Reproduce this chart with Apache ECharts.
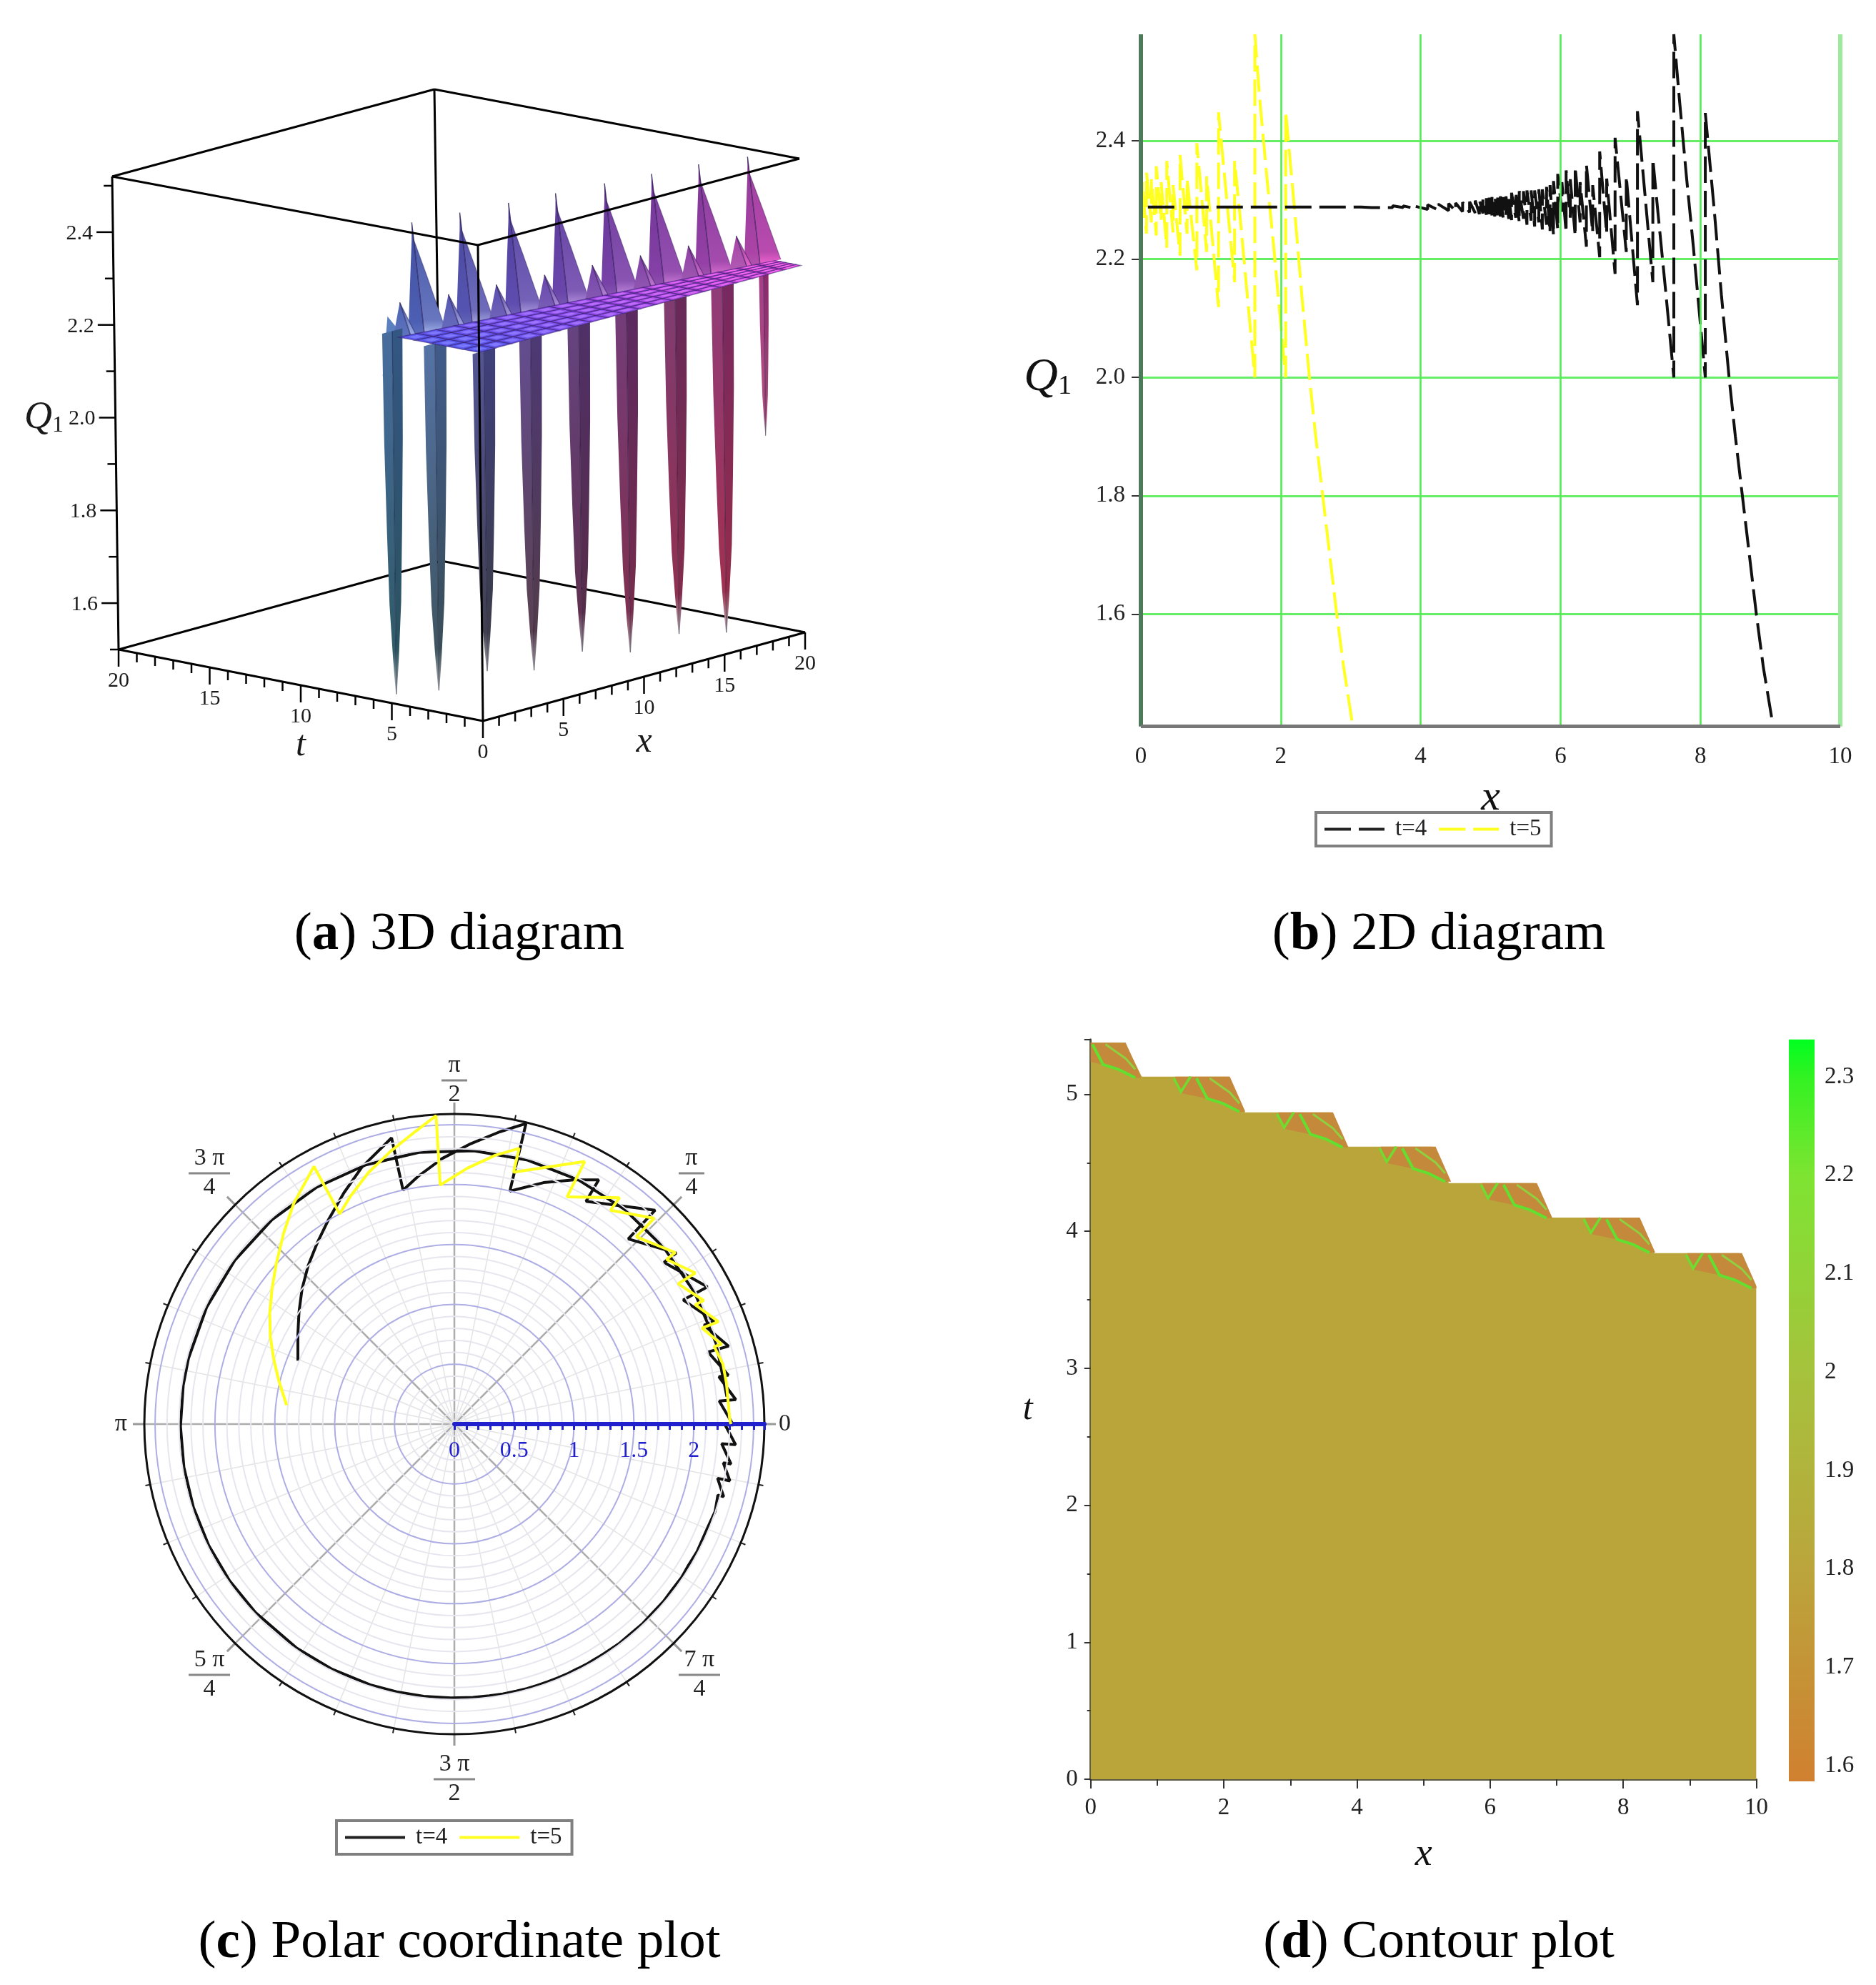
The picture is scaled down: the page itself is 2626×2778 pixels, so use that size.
<!DOCTYPE html>
<html><head><meta charset="utf-8">
<style>html,body{margin:0;padding:0;background:#fff}#c{width:2626px;height:2778px}</style>
<script src="https://cdn.jsdelivr.net/npm/echarts@6/dist/echarts.min.js"></script>
</head><body><div id="c"></div>
<script>
// ---------- values ----------
const t4StartX = 0.1, t4StartY = 2.288, t4EndX = 9.04, t4EndY = 1.41;
const t4JumpX  = [0.3,0.5,0.7,0.9,1.1,1.3,1.5,1.7,1.9,2.1,2.3,2.5,2.7,2.9,3.00,3.15,3.30,3.45,3.60,3.75,3.90,4.10,4.25,4.40,4.50,4.60,4.70,4.78,4.84,4.89,4.94,4.98,5.02,5.06,5.10,5.14,5.18,5.22,5.26,5.30,5.36,5.41,5.47,5.52,5.58,5.63,5.69,5.74,5.80,5.85,5.90,5.96,6.02,6.08,6.14,6.21,6.28,6.37,6.46,6.56,6.66,6.78,6.94,7.10,7.32,7.40,7.50,7.62,7.70,7.80,7.90,8.00,8.07,8.20,8.30,8.41,8.50,8.60,8.70,8.80,8.90];
const t4JumpLow  = [2.288,2.288,2.288,2.288,2.288,2.288,2.288,2.288,2.288,2.288,2.288,2.288,2.288,2.288,2.288,2.288,2.287,2.287,2.287,2.287,2.286,2.284,2.283,2.282,2.281,2.280,2.279,2.278,2.276,2.277,2.275,2.276,2.274,2.272,2.274,2.272,2.270,2.272,2.268,2.266,2.270,2.262,2.268,2.258,2.265,2.255,2.262,2.250,2.258,2.245,2.240,2.250,2.280,2.245,2.270,2.239,2.262,2.221,2.245,2.203,2.243,2.175,2.212,2.122,2.161,2.270,2.150,2.000,2.470,2.340,2.220,2.090,2.000,2.280,2.140,2.000,1.900,1.800,1.700,1.600,1.510];
const t4JumpHigh = [2.288,2.288,2.288,2.288,2.288,2.288,2.288,2.288,2.288,2.288,2.288,2.288,2.288,2.288,2.288,2.288,2.289,2.289,2.290,2.290,2.290,2.292,2.293,2.294,2.295,2.296,2.297,2.299,2.300,2.302,2.303,2.304,2.305,2.306,2.304,2.306,2.305,2.306,2.308,2.312,2.314,2.315,2.315,2.316,2.316,2.316,2.318,2.318,2.322,2.325,2.332,2.344,2.330,2.350,2.335,2.356,2.330,2.360,2.325,2.382,2.336,2.405,2.340,2.450,2.369,2.270,2.150,2.580,2.470,2.340,2.220,2.090,2.447,2.280,2.140,2.000,1.900,1.800,1.700,1.600,1.510];
const t5StartX = 0.0, t5StartY = 2.31, t5EndX = 3.03, t5EndY = 1.41;
const t5JumpX    = [0.02,0.08,0.15,0.22,0.29,0.37,0.46,0.56,0.66,0.80,0.94,1.11,1.34,1.42,1.52,1.63,1.70,1.80,1.90,2.00,2.07,2.20,2.30,2.41,2.50,2.60,2.70,2.80,2.90];
const t5JumpLow  = [2.270,2.243,2.262,2.240,2.265,2.219,2.245,2.206,2.243,2.181,2.212,2.119,2.161,2.270,2.140,2.000,2.470,2.340,2.220,2.090,2.000,2.280,2.140,2.000,1.900,1.800,1.700,1.600,1.510];
const t5JumpHigh = [2.330,2.346,2.335,2.357,2.330,2.366,2.325,2.376,2.336,2.396,2.340,2.448,2.366,2.270,2.140,2.580,2.470,2.340,2.220,2.090,2.450,2.280,2.140,2.000,1.900,1.800,1.700,1.600,1.510];
const yTicks2d = [1.6,1.8,2.0,2.2,2.4];
const xGrid2d = [2,4,6,8];
const frameBottom2d = 1.41, frameTop2d = 2.58;

const peakX = [0.76,3.31,5.9,8.4,11,13.5,16,18.6];
const peakZ = [2.53,2.53,2.53,2.53,2.53,2.53,2.53,2.525];
const smallPeakX = [0.08,2.66,5.2,7.76,10.3,12.85,15.4,17.95];
const smallPeakZ = [2.364,2.36,2.36,2.36,2.36,2.36,2.36,2.36];
const bladeX = [0.67,0.13,0.3,3.2,6.2,9.17,12.2,15.13,17.7];
const bladeT = [5.34,2.52,0,0,0,0,0,0,0];
const bladeTipZ = [1.51,1.545,1.604,1.578,1.59,1.56,1.571,1.546,1.945];
const bladeTopColor = ['#3c6498','#4a6aa0','#4a4a90','#5a4288','#5c3878','#6a3070','#783068','#8a3070','#a03080'];
const bladeBottomColor = ['#2f5a68','#3e5560','#40404f','#5a4050','#60304f','#803050','#903050','#a03050','#b05080'];
const plateZ = 2.29;
const tTicks3d = [0,5,10,15,20], xTicks3d = [5,10,15,20], zTicks3d = [1.6,1.8,2.0,2.2,2.4];

const stairX = [0,0.52,0.767,2.07,2.317,3.61,3.858,5.136,5.38,6.66,6.925,8.21,8.46,9.75,10,10,0];
const stairT = [5.377,5.377,5.129,5.129,4.868,4.868,4.618,4.618,4.352,4.352,4.10,4.10,3.84,3.84,3.596,0,0];
const stepAnchorX = [-0.797,0.767,2.317,3.858,5.38,6.925,8.46];
const stepAnchorT = [5.377,5.129,4.868,4.618,4.352,4.10,3.84];
const wedgeDx = [0.5,1.323,1.556,1.467,1.216,0.984,0.59];
const wedgeDt = [0,0,-0.256,-0.256,-0.195,-0.16,-0.12];
const contourADx = [0.483,0.59,0.733], contourADt = [-0.012,-0.111,0];
const contourBDx = [0.823,0.984,1.216,1.467], contourBDt = [-0.012,-0.16,-0.195,-0.256];
const contourCDx = [1.02,1.323,1.467], contourCDt = [-0.012,-0.116,-0.195];
const colorbarValues = [1.584,1.8,2.0,2.2,2.3,2.338];
const colorbarColors = ['#d08030','#bba53c','#a6c23c','#7ee432','#32f222','#00ff20'];

const anglePiLabels = {0:'{z|0}',45:'{n|π}\n{r1|}\n{d|4}',90:'{n|π}\n{r1|}\n{d|2}',135:'{n|3 π}\n{r3|}\n{d|4}',180:'{pi|π}',225:'{n|5 π}\n{r3|}\n{d|4}',270:'{sp|}\n{n|3 π}\n{r3|}\n{d|2}',315:'{n|7 π}\n{r3|}\n{d|4}'};
const captions = [['a','3D diagram'],['b','2D diagram'],['c','Polar coordinate plot'],['d','Contour plot']];

// ---------- helpers ----------
const SERIF = '"Liberation Serif"';
function sawtooth(sx,sy,xs,lo,hi,ex,ey){const p=[[sx,sy]];xs.forEach((x,i)=>{p.push([x,lo[i]],[x,hi[i]]);});p.push([ex,ey]);return p;}
const t4Pts = sawtooth(t4StartX,t4StartY,t4JumpX,t4JumpLow,t4JumpHigh,t4EndX,t4EndY);
const t5Pts = sawtooth(t5StartX,t5StartY,t5JumpX,t5JumpLow,t5JumpHigh,t5EndX,t5EndY);
const deg = x => x*180/Math.PI;
// the polar panel keeps only the mid-height of the fine ripple below the cut
function polarPts(sx,sy,xs,lo,hi,ex,ey,cut){
  const p=[[sy,deg(sx)]];
  xs.forEach((x,i)=>{ if(x<cut){p.push([(lo[i]+hi[i])/2,deg(x)]);} else {p.push([lo[i],deg(x)],[hi[i],deg(x)]);} });
  p.push([ey,deg(ex)]);return p;
}
const t4Polar = polarPts(t4StartX,t4StartY,t4JumpX,t4JumpLow,t4JumpHigh,t4EndX,t4EndY,6.0);
const t5Polar = polarPts(t5StartX,t5StartY,t5JumpX,t5JumpLow,t5JumpHigh,t5EndX,t5EndY,0.28);

// 3D box: screen corners of the Maple frame
const B00=[676,1009],B10=[1127,885],B01=[166,909],B11=[618,785];
const T00=[669,343],T10=[1119,222],T01=[157,247],T11=[608,125];
const Z0=1.5,Z1=2.52;
function proj(p){
  const fx=p[0]/20,ft=p[1]/20,fz=(p[2]-Z0)/(Z1-Z0);
  const bl=(a,b,c,d,k)=>a[k]*(1-fx)*(1-ft)+b[k]*fx*(1-ft)+c[k]*(1-fx)*ft+d[k]*fx*ft;
  const r=[0,1].map(k=>{const bb=bl(B00,B10,B01,B11,k),tt=bl(T00,T10,T01,T11,k);return bb+(tt-bb)*fz;});
  return [r[0]+(p[3]||0),r[1]+(p[4]||0)];
}
const edge=x=>4.4-0.15*x;
function hex(c){return [1,3,5].map(i=>parseInt(c.substr(i,2),16));}
function mix(a,b,f){const A=hex(a),B=hex(b);return '#'+A.map((v,i)=>Math.round(v+(B[i]-v)*f).toString(16).padStart(2,'0')).join('');}
function ramp(stops,f){const n=stops.length-1;f=Math.max(0,Math.min(1,f));const i=Math.min(n-1,Math.floor(f*n));return mix(stops[i],stops[i+1],f*n-i);}
const peakRamp=['#4a62b4','#5a4eb0','#7242a8','#8c3fa5','#b846a8'];
const lightRamp=['#a0b4ec','#a89cdc','#b888dc','#d070d0','#ff60d0'];
const plateRamp=['#5458e8','#7a52ee','#a04cea','#c84ce4','#e84cdc'];
const cellRamp=['#7478ff','#9874ff','#ba6cfa','#e068f4','#ff6cf0'];

const faces3d=[];
const line3=(pts,lw,col)=>faces3d.push({k:'line',pts,lw:lw||3,col:col||'#000'});
const poly3=(pts,fill,stroke,grad)=>faces3d.push({k:'poly',pts,fill,stroke,grad});
const text3=(pts,text,font,align,rich)=>faces3d.push({k:'text',pts,text,font,align:align||'center',rich});
// spike side: a thin needle near the tip, then widening straight to the base
function spikeSide(tip,base){
  const at=(f,w)=>[tip[0]+(base[0]-tip[0])*w,tip[1]+(base[1]-tip[1])*w,tip[2]+(base[2]-tip[2])*f];
  return [at(0.16,0.06),at(0.5,0.45),base];
}
// back frame
line3([[0,20,Z0],[20,20,Z0]]);line3([[20,20,Z0],[20,0,Z0]]);
line3([[20,20,Z0],[20,20,Z1]]);line3([[0,20,Z1],[20,20,Z1]]);line3([[20,20,Z1],[20,0,Z1]]);
// tall peaks
peakX.forEach((x,i)=>{
  const f=x/20,c=ramp(peakRamp,f),l=ramp(lightRamp,f),d=mix(c,'#201050',0.12);
  const tip=[x,edge(x),peakZ[i]];
  const L=[x-0.25,edge(x-0.25),plateZ],M=[x+0.42,edge(x)-0.25,plateZ],R=[x+1.7,edge(x+1.7),plateZ];
  poly3([tip].concat(spikeSide(tip,L)).concat([M]),null,null,[mix(c,'#201050',0.2),c,mix(c,'#ffffff',0.1)]);
  poly3([tip].concat(spikeSide(tip,R)).concat([M]),null,null,[d,mix(d,l,0.35),l]);
  line3([tip,M],1.5,'rgba(30,15,70,0.6)');
  line3([tip].concat(spikeSide(tip,R)),1.2,'rgba(30,15,70,0.35)');
});
// small peaks
poly3([[0,5.0,2.33],[0.45,4.6,plateZ],[0.67,5.2,2.2],[0,5.3,2.2]],'#5a80c0');
smallPeakX.forEach((x,i)=>{
  const f=x/20,c=ramp(peakRamp,f),l=ramp(lightRamp,f);
  const tip=[x,edge(x),smallPeakZ[i]];
  const L=[x-0.38,edge(x-0.38),plateZ],M=[x+0.23,edge(x)-0.4,plateZ],R=[x+0.65,edge(x+0.65)-0.2,plateZ];
  poly3([tip,L,M],null,null,[c,mix(c,'#ffffff',0.12)]);
  poly3([tip,M,R],null,null,[mix(c,'#000000',0.1),l]);
  line3([tip,M],1.5,'rgba(30,15,70,0.55)');
  line3([tip,R],1.2,'rgba(30,15,70,0.45)');
});
// down-pointing blades
const bladeDepth=[0,0.3,0.55,0.75,0.9,1], bladeHalf=[0.7,0.64,0.52,0.4,0.2,0.03];
bladeX.forEach((x,i)=>{
  const t=bladeT[i],zt=bladeTipZ[i],scale=i===8?0.42:(i===0?0.9:1);
  const z=d=>plateZ+(zt-plateZ)*d;
  const left=bladeDepth.map((d,k)=>[x-bladeHalf[k]*scale,t,z(d)]);
  const right=bladeDepth.map((d,k)=>[x+bladeHalf[k]*scale,t,z(d)]);
  const mid=bladeDepth.map(d=>[x,t,z(d)]);
  const a=bladeTopColor[i],b=bladeBottomColor[i];
  poly3(left.concat(mid.slice().reverse()),null,null,[mix(a,'#ffffff',0.06),b,'#b8b8b8']);
  poly3(right.concat(mid.slice().reverse()),null,null,[mix(a,'#000000',0.14),mix(b,'#000000',0.08),'#a8a8a8']);
  line3([mid[0],mid[5]],1.2,'rgba(20,15,50,0.45)');
});
// flat plate
for(let i=0;i<20;i++){
  for(let j=0;j<5;j++){
    const a=i,b=i+1,ta0=edge(a)*j/5,ta1=edge(a)*(j+1)/5,tb0=edge(b)*j/5,tb1=edge(b)*(j+1)/5;
    const f=(i+0.5)/20;
    const q=[[a,ta0,plateZ],[b,tb0,plateZ],[b,tb1,plateZ],[a,ta1,plateZ]];
    poly3(q,ramp(plateRamp,f),'rgba(50,25,110,0.55)');
    const cx=(a+b)/2,ct=(ta0+ta1+tb0+tb1)/4,s=0.5;
    poly3(q.map(p=>[cx+(p[0]-cx)*s,ct+(p[1]-ct)*s,plateZ]),ramp(cellRamp,f));
  }
}
// front frame
line3([[0,0,Z0],[20,0,Z0]]);line3([[0,0,Z0],[0,20,Z0]]);
line3([[0,0,Z0],[0,0,Z1]]);line3([[0,20,Z0],[0,20,Z1]]);
line3([[0,0,Z1],[20,0,Z1]]);line3([[0,0,Z1],[0,20,Z1]]);
// ticks on the frame
for(let v=1;v<=20;v++){
  const major=v%5===0,len=major?24:13;
  line3([[0,v,Z0],[0,v,Z0,0,len]],2.5);
  line3([[v,0,Z0],[v,0,Z0,0,len]],2.5);
}
line3([[0,0,Z0],[0,0,Z0,0,24]],2.5);
for(let v=15;v<=25;v++){
  const z=v/10,major=v%2===0;
  line3([[0,20,z],[0,20,z,major?-23:-12,0]],2.5);
}
const tickFont='30px '+SERIF;
tTicks3d.forEach(v=>text3([[0,v,Z0,0,44]],String(v),tickFont));
xTicks3d.forEach(v=>text3([[v,0,Z0,0,44]],String(v),tickFont));
zTicks3d.forEach(v=>text3([[0,20,v,-28,2]],v.toFixed(1),tickFont,'right'));
const qRich=(a,b,pad)=>({q:{fontFamily:SERIF,fontStyle:'italic',fontSize:a,color:'#111'},s:{fontFamily:SERIF,fontSize:b,color:'#111',padding:[pad,0,0,0]}});
// axis titles of the 3D panel sit beside the frame
text3([[0,20,2.0,-100,0]],'{q|Q}{s|1}',null,'center',qRich(54,32,22));
text3([[0,10,Z0,0,85]],'t','italic 50px '+SERIF);
text3([[10,0,Z0,0,92]],'x','italic 50px '+SERIF);

const renderFace=(params,api)=>{
  const f=faces3d[params.dataIndex];
  const pts=f.pts.map(p=>api.coord(proj(p)));
  if(f.k==='text'){
    const st={text:f.text,x:pts[0][0],y:pts[0][1],align:f.align,verticalAlign:'middle',fill:'#1a1a1a'};
    if(f.font) st.font=f.font;
    if(f.rich) st.rich=f.rich;
    return {type:'text',style:st};
  }
  if(f.k==='line') return {type:'polyline',shape:{points:pts},style:{stroke:f.col,lineWidth:f.lw,fill:null}};
  let fill=f.fill;
  if(f.grad){fill=new echarts.graphic.LinearGradient(0,0,0,1,f.grad.length===3?[{offset:0,color:f.grad[0]},{offset:0.88,color:f.grad[1]},{offset:1,color:f.grad[2]}]:[{offset:0,color:f.grad[0]},{offset:1,color:f.grad[1]}]);}
  return {type:'polygon',shape:{points:pts},style:{fill,stroke:f.stroke||null,lineWidth:f.stroke?1.4:0}};
};

// contour pieces
const contourShapes=[];
contourShapes.push({fill:'#baa53a',pts:stairX.map((x,i)=>[x,stairT[i]])});
stepAnchorX.forEach((ax,i)=>{
  const at=stepAnchorT[i];
  const mk=(dx,dt)=>dx.map((d,k)=>[ax+d,at+dt[k]]);
  contourShapes.push({fill:'#c4893a',pts:mk(wedgeDx,wedgeDt)});
  contourShapes.push({line:'#6edd30',w:3.5,pts:mk(contourADx,contourADt)});
  contourShapes.push({line:'#62e030',w:4,pts:mk(contourBDx,contourBDt)});
  contourShapes.push({line:'#8ed040',w:3,pts:mk(contourCDx,contourCDt)});
});
const renderContour=(params,api)=>{
  const s=contourShapes[params.dataIndex];
  const pts=s.pts.map(p=>api.coord(p));
  const cs=params.coordSys;
  const clip={x:cs.x,y:cs.y,width:cs.width,height:cs.height};
  const shapeEl=s.fill?{type:'polygon',shape:{points:pts},style:{fill:s.fill}}:{type:'polyline',shape:{points:pts},style:{stroke:s.line,lineWidth:s.w,fill:null}};
  return {type:'group',children:[shapeEl],clipPath:{type:'rect',shape:clip}};
};
const renderBar=(params,api)=>{
  const a=api.coord([0,colorbarValues[colorbarValues.length-1]]),b=api.coord([0,colorbarValues[0]]);
  const span=colorbarValues[colorbarValues.length-1]-colorbarValues[0];
  const stops=colorbarValues.map((v,i)=>({offset:1-(v-colorbarValues[0])/span,color:colorbarColors[i]})).reverse();
  const cs=params.coordSys;
  return {type:'rect',shape:{x:cs.x,y:a[1],width:cs.width,height:b[1]-a[1]},style:{fill:new echarts.graphic.LinearGradient(0,0,0,1,stops)}};
};

const serifAxisText={fontFamily:SERIF,fontSize:33,color:'#222'};
const fracRich={
  n:{fontFamily:SERIF,fontSize:34,color:'#222',lineHeight:33,align:'center'},
  d:{fontFamily:SERIF,fontSize:34,color:'#222',lineHeight:33,align:'center'},
  r1:{width:36,height:3,backgroundColor:'#888',align:'center',lineHeight:8},
  r3:{width:58,height:3,backgroundColor:'#888',align:'center',lineHeight:8},
  sp:{lineHeight:16,fontSize:10},
  pi:{fontFamily:SERIF,fontSize:34,color:'#222',padding:[0,14,0,0]},
  z:{fontFamily:SERIF,fontSize:34,color:'#222',padding:[0,0,0,10]}
};
// rings every 0.1: every fifth one blue, the outer frame ring left to the angle axis
const ringColors=[];
for(let i=0;i<=26;i++){ringColors.push(i===26?'rgba(0,0,0,0)':(i%5===0?'#aeaee4':'#e6e6ee'));}
const capCenters=[638,2009,638,2009],capTops=[1266,1266,2677,2677];
const solid=(color,width)=>({color,width,type:'solid'});
const frameLines2d=[
  ...xGrid2d.map(x=>[{xAxis:x,yAxis:frameBottom2d,lineStyle:solid('#52ec52',2.6)},{xAxis:x,yAxis:frameTop2d}]),
  [{xAxis:10,yAxis:frameBottom2d,lineStyle:solid('#9ceb9c',6)},{xAxis:10,yAxis:frameTop2d}],
  [{xAxis:0,yAxis:frameBottom2d,lineStyle:solid('#4f7a5a',6)},{xAxis:0,yAxis:frameTop2d}],
  [{xAxis:0,yAxis:frameBottom2d,lineStyle:solid('#777',5)},{xAxis:10,yAxis:frameBottom2d}]
];
const legendBase={orient:'horizontal',borderColor:'#808080',borderWidth:4,padding:[7,14,7,10],itemGap:15,itemWidth:84,itemHeight:28,
  textStyle:{fontFamily:SERIF,fontSize:33,color:'#222',padding:[0,0,0,10]},selectedMode:false};
const hideIcon={opacity:0,color:'rgba(0,0,0,0)',borderWidth:0};

const option={
  animation:false,
  backgroundColor:'#fff',
  title:captions.map((c,i)=>({
    text:'({b|'+c[0]+'}) '+c[1],left:capCenters[i],top:capTops[i],textAlign:'center',
    textStyle:{fontFamily:SERIF,fontSize:75,fontWeight:'normal',color:'#000',rich:{b:{fontFamily:SERIF,fontSize:75,fontWeight:'bold',color:'#000'}}}
  })),
  legend:[
    Object.assign({left:1842,top:1137,data:[{name:'t=4',itemStyle:hideIcon,lineStyle:{type:[37,11],width:4,color:'#222',opacity:1}},{name:'t=5',itemStyle:hideIcon,lineStyle:{type:[37,11],width:4,color:'#ffff20',opacity:1}}]},legendBase),
    Object.assign({left:471,top:2548,data:[{name:'t=4',itemStyle:hideIcon,lineStyle:{type:'solid',width:4,color:'#222',opacity:1}},{name:'t=5',itemStyle:hideIcon,lineStyle:{type:'solid',width:4,color:'#ffff20',opacity:1}}]},legendBase)
  ],
  grid:[
    {left:0,top:0,width:2626,height:2778,show:false},
    {left:1597,top:31.4,width:979,height:993.6},
    {left:1526.7,top:1454.8,width:931.9,height:1035.2},
    {left:2504,top:1369.4,width:36,height:1239.3}
  ],
  polar:{center:[636,1993],radius:434},
  angleAxis:{
    min:0,max:360,interval:45,startAngle:0,clockwise:false,
    axisLine:{lineStyle:{color:'#111',width:3}},
    axisTick:{show:true,length:16,lineStyle:{color:'#999',width:3}},
    minorTick:{show:true,splitNumber:4,length:7,lineStyle:{color:'#222',width:2}},
    splitLine:{show:true,lineStyle:{color:'#adadad',width:2.5}},
    minorSplitLine:{show:true,lineStyle:{color:'#e4e4e4',width:1.5}},
    axisLabel:{margin:10,fontFamily:SERIF,fontSize:34,color:'#222',rich:fracRich,formatter:v=>anglePiLabels[v]||''}
  },
  radiusAxis:{
    min:0,max:2.59,interval:0.1,
    axisLine:{lineStyle:{color:'#2020cc',width:6}},
    axisTick:{show:true,length:-8,lineStyle:{color:'#2020cc',width:3}},
    splitLine:{show:true,lineStyle:{color:ringColors,width:2}},
    axisLabel:{show:true,margin:-54,fontFamily:SERIF,fontSize:32,color:'#2222cc',
      formatter:v=>{const k=Math.round(v*10);return (k%5===0&&k<=20&&Math.abs(v*10-k)<1e-6)?String(k/10):'';}},
    z:4
  },
  xAxis:[
    {gridIndex:0,type:'value',min:0,max:2626,show:false},
    {gridIndex:1,type:'value',min:0,max:10,interval:2,
     name:'x',nameLocation:'middle',nameGap:62,nameTextStyle:{fontFamily:SERIF,fontStyle:'italic',fontSize:60,color:'#111'},
     axisLine:{show:false},axisTick:{show:false},axisLabel:Object.assign({margin:18},serifAxisText),
     splitLine:{show:false}},
    {gridIndex:2,type:'value',min:0,max:10,interval:2,
     name:'x',nameLocation:'middle',nameGap:79,nameTextStyle:{fontFamily:SERIF,fontStyle:'italic',fontSize:54,color:'#111'},
     axisLine:{lineStyle:{color:'#5a5a42',width:3}},axisTick:{show:true,length:13,lineStyle:{color:'#333',width:2}},
     minorTick:{show:true,splitNumber:2,length:9,lineStyle:{color:'#333',width:2}},
     axisLabel:Object.assign({margin:24},serifAxisText),splitLine:{show:false}},
    {gridIndex:3,type:'value',min:0,max:1,show:false}
  ],
  yAxis:[
    {gridIndex:0,type:'value',min:0,max:2778,inverse:true,show:false},
    {gridIndex:1,type:'value',min:1.4,max:2.6,interval:0.2,
     name:'{q|Q}{s|1}',nameLocation:'middle',nameGap:97,nameRotate:0,
     nameTextStyle:{rich:qRich(66,38,26)},
     axisLine:{show:false},axisTick:{show:true,length:13,customValues:yTicks2d,lineStyle:{color:'#333',width:2}},
     axisLabel:Object.assign({margin:22,showMinLabel:false,showMaxLabel:false,formatter:v=>v.toFixed(1)},serifAxisText),
     splitLine:{show:true,lineStyle:{color:'#66ee66',width:3}}},
    {gridIndex:2,type:'value',min:0,max:5.4,interval:1,
     name:'t',nameLocation:'middle',nameGap:81,nameRotate:0,nameTextStyle:{fontFamily:SERIF,fontStyle:'italic',fontSize:50,color:'#111'},
     axisLine:{show:true,lineStyle:{color:'#5a5a42',width:3}},axisTick:{show:true,length:9,lineStyle:{color:'#333',width:2}},
     minorTick:{show:true,splitNumber:2,length:5,lineStyle:{color:'#333',width:2}},
     axisLabel:Object.assign({margin:18,showMaxLabel:false},serifAxisText),splitLine:{show:false}},
    {gridIndex:3,type:'value',min:1.5,max:2.4,interval:0.1,position:'right',
     axisLine:{show:false},axisTick:{show:false},splitLine:{show:false},
     axisLabel:Object.assign({margin:14,formatter:v=>(v<1.55||v>2.35)?'':String(+v.toFixed(1))},serifAxisText)}
  ],
  series:[
    {type:'custom',name:'surface',xAxisIndex:0,yAxisIndex:0,coordinateSystem:'cartesian2d',silent:true,clip:false,
     renderItem:renderFace,data:faces3d.map((f,i)=>[i,i]),z:1},
    {type:'line',name:'frame',xAxisIndex:1,yAxisIndex:1,data:[],z:2,symbol:'none',
     markLine:{silent:true,symbol:'none',label:{show:false},animation:false,data:frameLines2d}},
    {type:'line',name:'t=4',xAxisIndex:1,yAxisIndex:1,data:t4Pts,symbol:'none',z:4,clip:true,
     lineStyle:{color:'#111',width:4,type:[37,11]}},
    {type:'line',name:'t=5',xAxisIndex:1,yAxisIndex:1,data:t5Pts,symbol:'none',z:3,clip:true,
     lineStyle:{color:'#ffff20',width:4,type:[37,11]}},
    {type:'line',name:'t=4',coordinateSystem:'polar',data:t4Polar,symbol:'none',z:3,
     lineStyle:{color:'#111',width:4,type:'solid'}},
    {type:'line',name:'t=5',coordinateSystem:'polar',data:t5Polar,symbol:'none',z:4,
     lineStyle:{color:'#ffff20',width:4,type:'solid'}},
    {type:'custom',name:'contour',xAxisIndex:2,yAxisIndex:2,silent:true,renderItem:renderContour,
     data:contourShapes.map((s,i)=>[i/10,0]),clip:false,z:1},
    {type:'custom',name:'colorbar',xAxisIndex:3,yAxisIndex:3,silent:true,renderItem:renderBar,data:[[0,2]],clip:false}
  ]
};
const chart=echarts.init(document.getElementById('c'),null,{renderer:'canvas',width:2626,height:2778,devicePixelRatio:1});
chart.setOption(option);
</script></body></html>
